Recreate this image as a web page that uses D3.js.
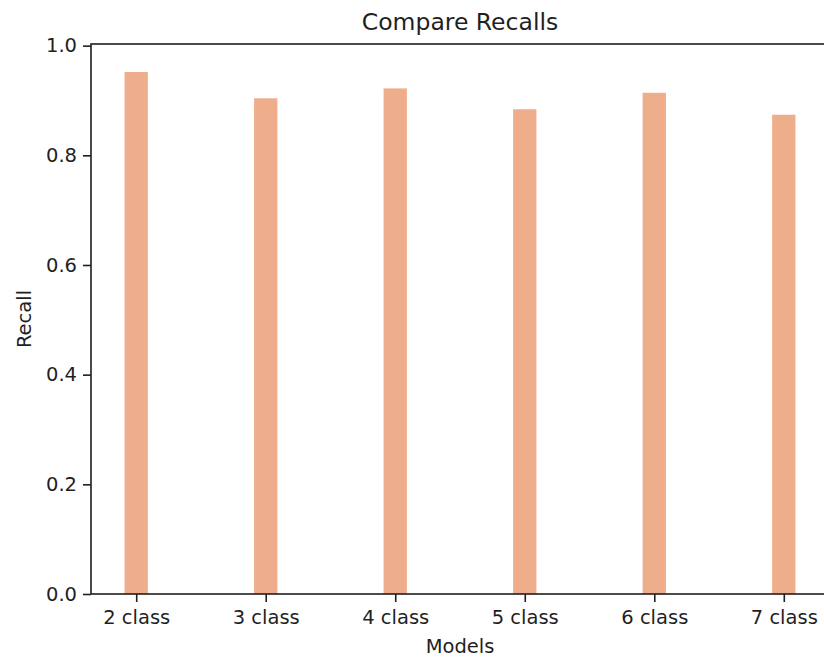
<!DOCTYPE html>
<html>
<head>
<meta charset="utf-8">
<script src="https://cdn.jsdelivr.net/npm/d3@7/dist/d3.min.js"></script>
<style>
  html, body { margin: 0; padding: 0; background: #fff; }
  svg { display: block; font-family: "DejaVu Sans", sans-serif; }
</style>
</head>
<body>
<svg id="chart" width="824" height="659"></svg>
<script>
// Recall per model
const categories = ["2 class", "3 class", "4 class", "5 class", "6 class", "7 class"];
const recalls = [0.952, 0.904, 0.922, 0.884, 0.914, 0.874];
const yTicks = [0.0, 0.2, 0.4, 0.6, 0.8, 1.0];
const yMax = 1.003;

const barWidth = 0.18;          // in category units
const barColor = "#efae8b";
const ink = "#1f1f1f";

const svg = d3.select("#chart");
const plot = { left: 91, right: 829, top: 44, bottom: 594 };

// x: category index, padded like an autoscaled bar plot
const pad = 0.05 * (categories.length - 1 + barWidth);
const x = d3.scaleLinear()
  .domain([-barWidth / 2 - pad, categories.length - 1 + barWidth / 2 + pad])
  .range([plot.left, plot.right]);

const y = d3.scaleLinear()
  .domain([0, yMax])
  .range([plot.bottom, plot.top]);

// bars
svg.append("g")
  .selectAll("rect")
  .data(recalls)
  .join("rect")
  .attr("x", (d, i) => x(i - barWidth / 2))
  .attr("width", (d, i) => x(i + barWidth / 2) - x(i - barWidth / 2))
  .attr("y", d => y(d))
  .attr("height", d => y(0) - y(d))
  .attr("fill", barColor);

// axes
const xAxis = d3.axisBottom(x)
  .tickValues(d3.range(categories.length))
  .tickFormat(i => categories[i])
  .tickSize(8).tickPadding(8);

const yAxis = d3.axisLeft(y)
  .tickValues(yTicks)
  .tickFormat(d3.format(".1f"))
  .tickSize(8).tickPadding(6);

const gx = svg.append("g")
  .attr("transform", `translate(0,${plot.bottom})`)
  .call(xAxis);
const gy = svg.append("g")
  .attr("transform", `translate(${plot.left},0)`)
  .call(yAxis);

[gx, gy].forEach(g => {
  g.select(".domain").remove();
  g.selectAll(".tick line").attr("stroke", ink).attr("stroke-width", 1.6);
  g.selectAll(".tick text").attr("fill", ink)
    .style("font-size", "19.5px").style("font-family", "DejaVu Sans, sans-serif");
});

// frame
svg.append("rect")
  .attr("x", plot.left).attr("y", plot.top)
  .attr("width", plot.right - plot.left)
  .attr("height", plot.bottom - plot.top)
  .attr("fill", "none")
  .attr("stroke", ink)
  .attr("stroke-width", 1.6);

// titles
const cx = (plot.left + plot.right) / 2;
svg.append("text")
  .attr("x", cx).attr("y", 30)
  .attr("text-anchor", "middle")
  .attr("fill", ink)
  .style("font-size", "23.5px")
  .text("Compare Recalls");

svg.append("text")
  .attr("x", cx).attr("y", 653)
  .attr("text-anchor", "middle")
  .attr("fill", ink)
  .style("font-size", "19.5px")
  .text("Models");

svg.append("text")
  .attr("transform", `translate(31,${(plot.top + plot.bottom) / 2}) rotate(-90)`)
  .attr("text-anchor", "middle")
  .attr("fill", ink)
  .style("font-size", "19.5px")
  .text("Recall");
</script>
</body>
</html>
